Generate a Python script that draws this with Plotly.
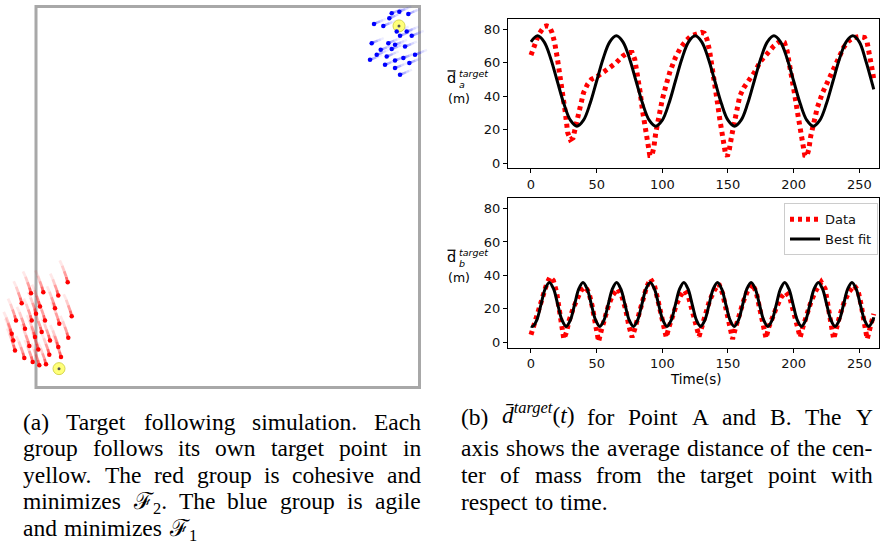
import re
import plotly.graph_objects as go

W, H = 882, 543


def px(x):
    return x / W


def py(y):
    return 1 - y / H


# ---------------- data: panel (b) top, point A ----------------
t_a_data = [0, 2, 4, 6, 8, 10, 12, 14, 16, 18, 20, 22, 24, 26, 28, 30, 32, 34, 36, 38,
            40, 43, 46, 50, 55, 60, 65, 70, 74, 77, 79, 81, 83, 85, 87, 89, 90.5, 92, 93.5, 95,
            97, 100, 103, 106, 110, 114, 118, 122, 126, 130, 132, 134, 136, 138, 140, 142, 144, 146, 148, 149.5,
            151, 153, 155, 157, 159, 162, 165, 170, 175, 180, 185, 190, 193, 195, 197, 199, 201, 203, 205, 207,
            208.5, 210, 211.5, 213, 215, 218, 222, 226, 230, 234, 238, 242, 246, 250, 254, 256, 258, 260, 261]
d_a_data = [64.5, 68, 73, 77, 80, 81.5, 82, 81.5, 78, 72, 63, 53, 42, 31, 18, 14, 15, 22, 29, 36,
            42, 47, 50, 51.5, 54, 57, 60, 64, 66, 66, 62, 54, 43, 31, 20, 10, 4.5, 4.5, 9, 18,
            27, 38, 47, 55, 63, 69, 73, 76, 77, 78, 77.5, 74, 67, 58, 47, 36, 25, 14, 6, 4,
            8, 17, 26, 35, 40, 45, 48, 54, 61, 66, 70, 73, 72, 67, 59, 49, 40, 30, 20, 10,
            4.5, 4, 8, 16, 24, 33, 42, 49, 56, 63, 69, 73, 75, 75.5, 75, 72, 65, 55, 50]

t_a_fit = [0, 5, 10, 15, 20, 25, 30, 35, 40, 45, 50, 55,
           60, 65, 70, 75, 80, 85, 90, 95, 100, 105, 110, 115,
           120, 125, 130, 135, 140, 145, 150, 155, 160, 165, 170, 175,
           180, 185, 190, 195, 200, 205, 210, 215, 220, 225, 230, 235,
           240, 245, 250, 255, 260, 261]
d_a_fit = [72.4, 76, 72.4, 62.5, 49, 35.5, 25.6, 22, 25.6, 35.5, 49, 62.5,
           72.4, 76, 72.4, 62.5, 49, 35.5, 25.6, 22, 25.6, 35.5, 49, 62.5,
           72.4, 76, 72.4, 62.5, 49, 35.5, 25.6, 22, 25.6, 35.5, 49, 62.5,
           72.4, 76, 72.4, 62.5, 49, 35.5, 25.6, 22, 25.6, 35.5, 49, 62.5,
           72.4, 76, 72.4, 61, 47, 44]

# ---------------- data: panel (b) bottom, point B ----------------
t_b_data = [0, 3, 6, 9, 12, 14.5, 17, 19.5, 22, 24, 25,
            27, 29, 32, 35, 38, 41.5, 44, 46.5, 49, 51.5,
            53.5, 56, 59, 62, 66, 69, 72, 74.5, 77,
            79, 82, 85, 88, 91, 94, 97, 100, 103,
            105, 108, 111, 114, 117, 120, 123, 126, 128,
            130, 133, 136, 139.5, 143, 146, 149, 151.5, 153.5,
            155.5, 158.5, 161.5, 165, 168.5, 171.5, 174.5, 177, 179,
            181, 184, 187, 190.5, 194, 197, 200, 203, 205,
            207, 210, 213.5, 217, 221, 224, 226.5, 228.5, 230.5,
            232.5, 235.5, 238.5, 242, 246, 249, 251.5, 254, 256, 258, 260, 261]
d_b_data = [4.5, 12, 20, 28, 35, 39, 37, 30, 18, 8, 2,
            6, 13, 20, 26, 31, 33, 30, 22, 12, 0.5,
            7, 15, 22, 28, 32, 28, 20, 10, 3,
            8, 17, 25, 33, 38, 34, 24, 12, 3,
            9, 17, 23, 28, 31, 27, 18, 8, 3.5,
            9, 17, 25, 31, 35, 29, 18, 8, 2,
            8, 17, 24, 31, 35, 30, 20, 10, 2.5,
            9, 16, 21, 27, 30, 27, 18, 8, 3,
            9, 17, 25, 31, 36, 32, 22, 11, 2,
            9, 17, 24, 30, 34, 31, 22, 10, 2, 8, 14, 17]

t_b_fit = [0, 1.2, 4.4, 7.6, 10.8, 14.0, 17.2, 20.4, 23.6, 26.8, 30.0, 33.2, 36.4, 39.6, 42.8,
           46.0, 49.2, 52.4, 55.6, 58.8, 62.0, 65.2, 68.4, 71.6, 74.8, 78.0, 81.2, 84.4,
           87.6, 90.8, 94.0, 97.2, 100.4, 103.6, 106.8, 110.0, 113.2, 116.4, 119.6, 122.8,
           126.0, 129.2, 132.4, 135.6, 138.8, 142.0, 145.2, 148.4, 151.6, 154.8, 158.0,
           161.2, 164.4, 167.6, 170.8, 174.0, 177.2, 180.4, 183.6, 186.8, 190.0, 193.2,
           196.4, 199.6, 202.8, 206.0, 209.2, 212.4, 215.6, 218.8, 222.0, 225.2, 228.4,
           231.6, 234.8, 238.0, 241.2, 244.4, 247.6, 250.8, 254.0, 257.2, 260.4, 261]
d_b_fit = [9.8,
           9.5, 13.3, 22.6, 31.9, 35.8, 31.9, 22.6, 13.3,
           9.5, 13.3, 22.6, 31.9, 35.8, 31.9, 22.6, 13.3,
           9.5, 13.3, 22.6, 31.9, 35.8, 31.9, 22.6, 13.3,
           9.5, 13.3, 22.6, 31.9, 35.8, 31.9, 22.6, 13.3,
           9.5, 13.3, 22.6, 31.9, 35.8, 31.9, 22.6, 13.3,
           9.5, 13.3, 22.6, 31.9, 35.8, 31.9, 22.6, 13.3,
           9.5, 13.3, 22.6, 31.9, 35.8, 31.9, 22.6, 13.3,
           9.5, 13.3, 22.6, 31.9, 35.8, 31.9, 22.6, 13.3,
           9.5, 13.3, 22.6, 31.9, 35.8, 31.9, 22.6, 13.3,
           9.5, 13.3, 22.6, 31.9, 35.8, 31.9, 22.6, 13.3,
           9.5, 13.3, 15]

x_ticks = [0, 50, 100, 150, 200, 250]
y_ticks = [0, 20, 40, 60, 80]

# ---------------- data: panel (a) simulation snapshot (arena pixels) ----------------
red_x = [67.7, 31, 43.3, 58.3, 21.7, 40, 55, 71.7, 16, 31.7, 36, 45, 59.3, 11.7, 25,
         41.7, 68.3, 13.3, 35, 50, 15, 29.3, 38.3, 58.3, 24.3, 49.3, 61, 32.7, 39.3, 46]
red_y = [283.3, 294.3, 293.3, 296.7, 304.3, 307.7, 309.3, 317.3, 321.7, 321.7, 315, 321.7, 325, 335, 330,
         333.3, 339, 341.7, 338.3, 341.7, 351.7, 347.3, 350.7, 348.3, 359.3, 356, 358.3, 363.3, 366.7, 365.7]
blue_x = [391.7, 399.3, 408.3, 389.3, 374, 383.3, 396.7, 406.7, 400, 411.7, 371.7, 388.3, 395,
          405, 380.7, 376.7, 386.7, 395, 403.3, 370, 385, 395, 400, 409.3, 415, 391.7]
blue_y = [13.3, 11.7, 14, 18.3, 24, 26, 31.7, 31.7, 36, 36, 43.3, 43.3, 45,
          46.7, 50, 55, 56.7, 60.7, 58.3, 60, 65, 68.3, 75, 63.3, 55, 49.3]
target_red = (59, 370)
target_blue = (399, 26)
arena = (36, 6.5, 419.5, 389)

# captions (text content)
cap_a_lines = [
    "(a) Target following simulation. Each",
    "group follows its own target point in",
    "yellow. The red group is cohesive and",
    "minimizes \u2131<sub>2</sub>. The blue group is agile",
    "and minimizes \u2131<sub>1</sub>",
]
cap_b_lines = [
    "(b) <i>d\u0304</i><sup><i>target</i></sup>(<i>t</i>) for Point A and B. The Y",
    "axis shows the average distance of the cen-",
    "ter of mass from the target point with",
    "respect to time.",
]

# trail shapes (style)
red_trail_dx = [0, -1.5, -3.5, -5.5, -8]
red_trail_dy = [0, -5.5, -11, -16.5, -22]
blue_trail_dx = [0, 3, 6, 9, 12]
blue_trail_dy = [0, -1.2, -2.5, -3.8, -5]
trail_alpha = [0.6, 0.38, 0.2, 0.09]

fig = go.Figure()


def trail(hx, hy, dxs, dys, seg):
    xs, ys = [], []
    for x, y in zip(hx, hy):
        xs += [x + dxs[seg], x + dxs[seg + 1], None]
        ys += [y + dys[seg], y + dys[seg + 1], None]
    return xs, ys


for seg, a in enumerate(trail_alpha):
    xs, ys = trail(red_x, red_y, red_trail_dx, red_trail_dy, seg)
    fig.add_trace(go.Scatter(x=xs, y=ys, mode="lines", xaxis="x3", yaxis="y3",
                             line=dict(color=f"rgba(255,0,0,{a})", width=2.8),
                             showlegend=False, hoverinfo="skip"))
    xs, ys = trail(blue_x, blue_y, blue_trail_dx, blue_trail_dy, seg)
    fig.add_trace(go.Scatter(x=xs, y=ys, mode="lines", xaxis="x3", yaxis="y3",
                             line=dict(color=f"rgba(0,0,255,{a * 0.8})", width=2.4),
                             showlegend=False, hoverinfo="skip"))

for tx, ty in (target_red, target_blue):
    fig.add_trace(go.Scatter(x=[tx], y=[ty], mode="markers", xaxis="x3", yaxis="y3",
                             marker=dict(size=12, color="#ffff78", line=dict(color="#d6d650", width=1)),
                             showlegend=False, hoverinfo="skip"))
    fig.add_trace(go.Scatter(x=[tx], y=[ty], mode="markers", xaxis="x3", yaxis="y3",
                             marker=dict(size=3, color="#555555"),
                             showlegend=False, hoverinfo="skip"))

fig.add_trace(go.Scatter(x=red_x, y=red_y, mode="markers", xaxis="x3", yaxis="y3",
                         marker=dict(size=4.5, color="#ff0000"), showlegend=False, hoverinfo="skip"))
fig.add_trace(go.Scatter(x=blue_x, y=blue_y, mode="markers", xaxis="x3", yaxis="y3",
                         marker=dict(size=4.5, color="#0000ff"), showlegend=False, hoverinfo="skip"))

dot_line = dict(color="#ff0000", width=5, dash="4px,4px")

fig.add_trace(go.Scatter(x=t_a_data, y=d_a_data, mode="lines", xaxis="x", yaxis="y",
                         line=dot_line, showlegend=False))
fig.add_trace(go.Scatter(x=t_a_fit, y=d_a_fit, mode="lines", xaxis="x", yaxis="y",
                         line=dict(color="black", width=3, shape="spline"), showlegend=False))
fig.add_trace(go.Scatter(x=t_b_data, y=d_b_data, mode="lines", xaxis="x2", yaxis="y2",
                         line=dot_line, name="Data"))
fig.add_trace(go.Scatter(x=t_b_fit, y=d_b_fit, mode="lines", xaxis="x2", yaxis="y2",
                         line=dict(color="black", width=3, shape="spline"), name="Best fit"))

tick_font = dict(family="DejaVu Sans", size=13, color="#111111")
xdom = [px(508), px(879)]
common_x = dict(domain=xdom, range=[-17.5, 265], tickvals=x_ticks, ticks="outside", ticklen=4,
                tickcolor="black", showline=True, linecolor="black", linewidth=1, mirror=True,
                showgrid=False, zeroline=False, tickfont=tick_font)
common_y = dict(range=[-3.2, 86.1], tickvals=y_ticks, ticks="outside", ticklen=4,
                tickcolor="black", showline=True, linecolor="black", linewidth=1, mirror=True,
                showgrid=False, zeroline=False, tickfont=tick_font)

shapes = [dict(type="rect", xref="x3", yref="y3", x0=arena[0], y0=arena[1], x1=arena[2], y1=arena[3],
               line=dict(color="#a8a8a8", width=3), layer="below")]
# overbars of the y-axis labels
for dy in (0, 180):
    shapes.append(dict(type="line", xref="paper", yref="paper", x0=px(447.5), x1=px(455.5),
                       y0=py(71.2 + dy), y1=py(71.2 + dy), line=dict(color="black", width=1.3)))

fig.update_layout(
    width=W, height=H, margin=dict(l=0, r=0, t=0, b=0),
    paper_bgcolor="white", plot_bgcolor="rgba(0,0,0,0)",
    xaxis=dict(common_x, anchor="y"),
    yaxis=dict(common_y, domain=[py(169), py(19)], anchor="x"),
    xaxis2=dict(common_x, anchor="y2"),
    yaxis2=dict(common_y, domain=[py(349), py(199)], anchor="x2"),
    xaxis3=dict(domain=[0, px(430)], range=[0, 430], visible=False, anchor="y3"),
    yaxis3=dict(domain=[py(400), 1], range=[400, 0], visible=False, anchor="x3"),
    legend=dict(x=px(878), y=py(204), xanchor="right", yanchor="top",
                bgcolor="rgba(255,255,255,0.85)", bordercolor="#cccccc", borderwidth=1,
                font=dict(family="DejaVu Sans", size=13, color="#111111"),
                itemwidth=30, tracegroupgap=0),
    shapes=shapes,
)

anns = []


def ann(text, x, y, size, family, xanchor="center", yanchor="middle"):
    anns.append(dict(text=text, x=px(x), y=py(y), xref="paper", yref="paper", showarrow=False,
                     xanchor=xanchor, yanchor=yanchor, borderpad=0,
                     font=dict(size=size, family=family, color="black")))


SANS = "DejaVu Sans"
# y-axis labels
for dy, sub in ((0, "a"), (180, "b")):
    ann("d", 451.5, 83.3 + dy - 0.346 * 14.5, 14.5, SANS)
    ann("<i>target</i>", 458, 73.5 + dy, 9.5, SANS, xanchor="left")
    ann(f"<i>{sub}</i>", 458, 84.8 + dy, 9.5, SANS, xanchor="left")
    ann("(m)", 446.5, 103 + dy - 0.346 * 12.5, 12.5, SANS, xanchor="left")
ann("Time(s)", 696, 380, 13.5, SANS)

# ---------------- justified captions (Times metrics, Liberation Serif) ----------------
SERIF = "Liberation Serif"
FS = 23.5
TIMES = {
    " ": 250, "(": 333, ")": 333, "-": 333, ".": 250, "2": 500, "1": 500,
    "A": 722, "B": 667, "E": 611, "P": 556, "T": 611, "Y": 722,
    "a": 444, "b": 500, "c": 444, "d": 500, "e": 444, "f": 333, "g": 500, "h": 500,
    "i": 278, "l": 278, "m": 778, "n": 500, "o": 500, "p": 500, "r": 333, "s": 389,
    "t": 278, "u": 500, "v": 500, "w": 722, "x": 500, "y": 500, "z": 444,
    "\u2131": 820, "\u0304": 0,
}


def text_width(word, fs):
    total, scale = 0.0, 1.0
    for tok in re.split(r"(<[^>]+>)", word):
        if tok.startswith("<"):
            if tok in ("<sub>", "<sup>"):
                scale = 0.7
            elif tok in ("</sub>", "</sup>"):
                scale = 1.0
            continue
        for ch in tok:
            total += TIMES.get(ch, 500) * scale
    return total / 1000.0 * fs


def place_word(w, x, base):
    if "<sup>" in w:
        ann(w, x, base + 0.216 * FS, FS, SERIF, xanchor="left", yanchor="bottom")
    else:
        ann(w, x, base - 0.891 * FS, FS, SERIF, xanchor="left", yanchor="top")


def caption(lines, left, right, bases):
    for k, (line, base) in enumerate(zip(lines, bases)):
        words = line.split(" ")
        widths = [text_width(w, FS) for w in words]
        if k < len(lines) - 1:
            gap = (right - left - sum(widths)) / (len(words) - 1)
        else:
            gap = 0.3 * FS
        x = left
        for w, wd in zip(words, widths):
            place_word(w, x, base)
            x += wd + gap


caption(cap_a_lines, 21.7, 420, [430, 456.7, 483.3, 510, 536.7])
caption(cap_b_lines, 460, 871.7, [425.5, 456.7, 483.8, 510.8])

fig.update_layout(annotations=anns)
fig.write_html("out.html")
